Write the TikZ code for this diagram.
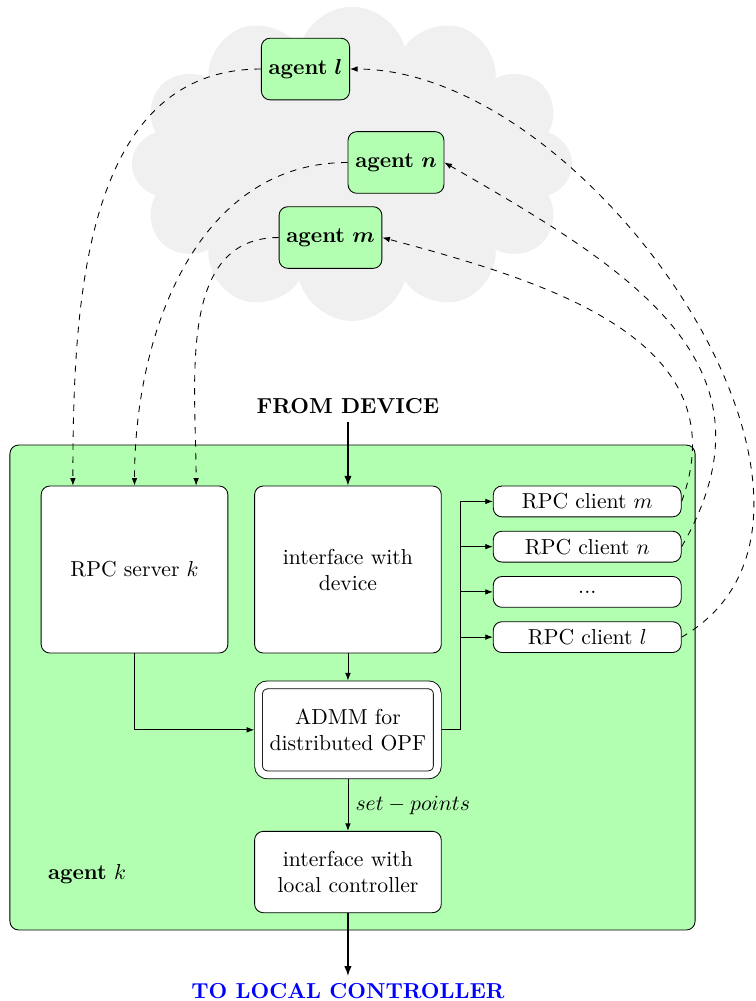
\documentclass[tikz,border=0pt]{standalone}
\usepackage{amsmath,amssymb}
\usepackage{tikz}
\usetikzlibrary{
	arrows.meta,
	positioning,
	shapes.symbols
}

\begin{document}
\begin{tikzpicture}[
		agentbox/.style={draw, rounded corners, fill=green!30, minimum height=1cm},
		block/.style={draw, rounded corners, fill=white, align=center, minimum width=3.03cm},
		client/.style={draw, rounded corners, fill=white, minimum width=3.05cm, minimum height=0.5cm},
		arrow/.style={-{Latex[length=3.5pt,width=2.6pt]}},
		link/.style={-{Latex[length=3.5pt,width=2.6pt]}, dashed},
		bigarrow/.style={-{Latex[length=4.5pt,width=3.4pt]}, semithick}
		]
		\useasboundingbox (0,0) rectangle (12.254,-16.246);
		
		% =========================
		% Cloud of neighbouring agents
		% =========================
		\node[cloud, cloud puffs=12, aspect=1.4, fill=black!6, minimum width=7.15cm, minimum height=5.1cm] (cloud) at (5.713,-2.66) {};
		\node[agentbox] (agl) at (4.958,-1.120) {\textbf{agent} $\boldsymbol{l}$};
		\node[agentbox] (agn) at (6.427,-2.637) {\textbf{agent} $\boldsymbol{n}$};
		\node[agentbox] (agm) at (5.364,-3.855) {\textbf{agent} $\boldsymbol{m}$};
		
		% =========================
		% Agent k
		% =========================
		\node[draw, rounded corners, fill=green!30, minimum width=11.12cm, minimum height=7.87cm] (agentk) at (5.721,-11.158) {};
		\node (agentklabel) at (1.412,-14.19) {\textbf{agent} $k$};
		
		\node[block, minimum height=2.71cm] (server) at (2.183,-9.243) {RPC server $k$};
		\node[block, minimum height=2.71cm, right=0.42cm of server] (device) {interface with\\ device};
		\node[block, double, double distance=3.2pt, outer sep=2pt, minimum width=2.9cm, minimum height=1.46cm, below=0.44cm of device] (admm) {ADMM for\\ distributed OPF};
		\node[block, minimum height=1.32cm, below=0.84cm of admm] (localctl) {interface with\\ local controller};
		
		% RPC clients
		\node[client, anchor=north west] (clm) at ([xshift=0.83cm]device.north east) {RPC client $m$};
		\node[client, below=0.22cm of clm] (cln) {RPC client $n$};
		\node[client, below=0.22cm of cln] (cldots) {...};
		\node[client, below=0.22cm of cldots] (cll) {RPC client $l$};
		
		% In / out
		\node[above=1.04cm of device, font=\bfseries] (fromdev) {FROM DEVICE};
		\node[below=1.02cm of localctl, font=\bfseries, text=blue] (tolocal) {TO LOCAL CONTROLLER};
		
		% =========================
		% Arrows inside agent k
		% =========================
		\draw[bigarrow] (fromdev) -- (device);
		\draw[arrow] (device) -- (admm);
		\draw[arrow] (server) |- (admm);
		\draw[arrow] (admm) -- node[right] {$set-points$} (localctl);
		\draw[bigarrow] (localctl) -- (tolocal);
		
		\draw[arrow] (admm.east) -- ++(0.31,0) |- (clm);
		\draw[arrow] (admm.east) -- ++(0.31,0) |- (cln);
		\draw[arrow] (admm.east) -- ++(0.31,0) |- (cldots);
		\draw[arrow] (admm.east) -- ++(0.31,0) |- (cll);
		
		% =========================
		% Communication links
		% =========================
		\draw[link] (agl.west) to[out=180, in=90] ([xshift=-1cm]server.north);
		\draw[link] (agn.west) to[out=180, in=90] (server.north);
		\draw[link] (agm.west) to[out=180, in=90] ([xshift=1cm]server.north);
		
		\draw[link] (clm.east) to[out=70, in=-15, looseness=1.1] (agm.east);
		\draw[link] (cln.east) to[out=60, in=-30, looseness=1.2] (agn.east);
		\draw[link] (cll.east) to[out=30, in=0, looseness=0.95] (agl.east);
		
	\end{tikzpicture}
\end{document}
